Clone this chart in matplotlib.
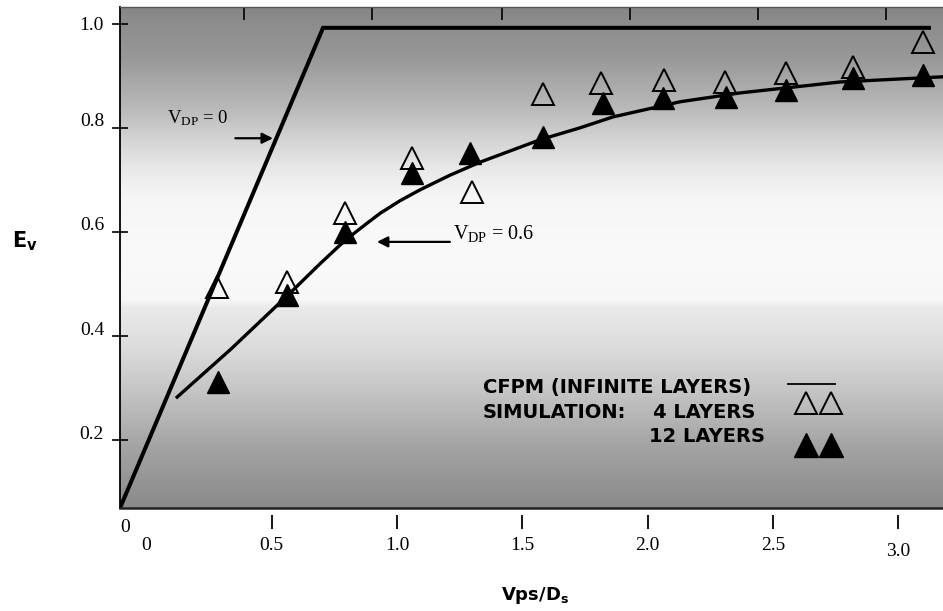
import numpy as np
import matplotlib
matplotlib.use("Agg")
import matplotlib.pyplot as plt
from matplotlib.transforms import ScaledTranslation

plt.rcParams["font.family"] = ["Liberation Serif", "DejaVu Serif"]
plt.rcParams["mathtext.fontset"] = "custom"
plt.rcParams["mathtext.rm"] = "Liberation Serif"
plt.rcParams["mathtext.it"] = "Liberation Serif:italic"
plt.rcParams["mathtext.bf"] = "Liberation Serif:bold"
plt.rcParams["mathtext.sf"] = "DejaVu Sans:bold"

# ---- data ----
# CFPM, infinite layers, V_DP = 0
vdp0_x = [-0.105, 0.705, 3.13]
vdp0_y = [0.070, 0.992, 0.992]

# CFPM, infinite layers, V_DP = 0.6
vdp06_x = [0.123, 0.335, 0.561, 0.693, 0.773, 0.825, 0.881, 0.933, 1.012,
           1.092, 1.211, 1.331, 1.570, 1.730, 1.862, 2.129, 2.368, 2.767, 3.178]
vdp06_y = [0.283, 0.374, 0.477, 0.539, 0.575, 0.596, 0.617, 0.636, 0.660,
           0.681, 0.709, 0.734, 0.777, 0.800, 0.821, 0.850, 0.867, 0.888, 0.898]

# Simulation, 4 layers
sim4_x = [0.282, 0.562, 0.793, 1.060, 1.299, 1.582, 1.814, 2.065, 2.309,
          2.552, 2.819, 3.098]
sim4_y = [0.494, 0.504, 0.636, 0.742, 0.677, 0.865, 0.886, 0.892, 0.888,
          0.905, 0.917, 0.965]

# Simulation, 12 layers
sim12_x = [0.286, 0.562, 0.793, 1.060, 1.291, 1.582, 1.822, 2.061, 2.312,
           2.552, 2.819, 3.098]
sim12_y = [0.312, 0.479, 0.600, 0.713, 0.752, 0.782, 0.848, 0.857, 0.859,
           0.873, 0.896, 0.901]

x_ticks = [0, 0.5, 1.0, 1.5, 2.0, 2.5, 3.0]
x_ticklabels = ["0", "0.5", "1.0", "1.5", "2.0", "2.5", "3.0"]
y_ticks = [0.2, 0.4, 0.6, 0.8, 1.0]
y_ticklabels = ["0.2", "0.4", "0.6", "0.8", "1.0"]
top_ticks = [0.39, 0.90, 1.42, 1.93, 2.44, 2.95]

W, H = 943, 611
fig = plt.figure(figsize=(W / 100, H / 100), dpi=100)
fig.patch.set_facecolor("white")
ax = fig.add_axes([120 / W, 1 - 508 / H, 823 / W, 501 / H])
ax.set_xlim(-0.105, 3.178)
ax.set_ylim(0.070, 1.032)

# shaded background of the plotting area (dark top, light middle, dark bottom)
stops_f = [0.0, 0.12, 0.22, 0.32, 0.40, 0.415, 0.50, 0.62, 0.68, 0.74, 0.80, 0.90, 1.0]
stops_g = [138, 163, 193, 220, 234, 247, 250, 246, 232, 210, 185, 152, 135]
fr = np.linspace(0, 1, 400)
g = np.interp(fr, stops_f, stops_g) / 255.0
img = np.repeat(g[:, None, None], 3, axis=2)
ax.imshow(img, extent=[0, 1, 0, 1], transform=ax.transAxes, origin="lower",
          aspect="auto", interpolation="bilinear", zorder=0)

# model curves
ax.plot(vdp0_x, vdp0_y, color="black", lw=2.9, solid_joinstyle="miter",
        solid_capstyle="butt", zorder=3)
ax.plot(vdp06_x, vdp06_y, color="black", lw=2.4, solid_joinstyle="round", zorder=3)

# simulation points
ax.plot(sim4_x, sim4_y, ls="none", marker="^", ms=16, mfc="none", mec="black",
        mew=1.4, zorder=4)
ax.plot(sim12_x, sim12_y, ls="none", marker="^", ms=16, mfc="black", mec="black",
        mew=1.0, zorder=5)

# curve annotations
ax.text(0.083, 0.819, r"V$_{\mathrm{DP}}$ = 0", fontsize=13.5, va="center", ha="left",
        zorder=6)
ax.annotate("", xy=(0.505, 0.780), xytext=(0.355, 0.780),
            arrowprops=dict(arrowstyle="-|>", color="black", lw=1.6,
                            mutation_scale=16, shrinkA=0, shrinkB=0), zorder=6)
ax.text(1.223, 0.598, r"V$_{\mathrm{DP}}$ = 0.6", fontsize=14.5, va="center", ha="left",
        zorder=6)
ax.annotate("", xy=(0.920, 0.581), xytext=(1.211, 0.581),
            arrowprops=dict(arrowstyle="-|>", color="black", lw=1.6,
                            mutation_scale=16, shrinkA=0, shrinkB=0), zorder=6)

# legend block
def fx(px):
    return (px - 120) / 823.0

def fy(py):
    return (508 - py) / 501.0

leg_kw = dict(transform=ax.transAxes, fontsize=14, fontweight="heavy",
              family="DejaVu Sans", va="center", zorder=6)
ax.text(fx(483), fy(388), "CFPM (INFINITE LAYERS)", ha="left", **leg_kw)
ax.text(fx(483), fy(412), "SIMULATION:", ha="left", **leg_kw)
ax.text(fx(755), fy(412), "4 LAYERS", ha="right", **leg_kw)
ax.text(fx(765), fy(437), "12 LAYERS", ha="right", **leg_kw)
ax.plot([fx(788), fx(835)], [fy(384), fy(384)], color="black", lw=1.3,
        transform=ax.transAxes, zorder=6)
ax.plot([fx(806), fx(831)], [fy(403), fy(403)], ls="none", marker="^", ms=16,
        mfc="none", mec="black", mew=1.4, transform=ax.transAxes, zorder=6)
ax.plot([fx(806), fx(831)], [fy(445), fy(445)], ls="none", marker="^", ms=17,
        mfc="black", mec="black", transform=ax.transAxes, zorder=6)

# frame
ax.spines["right"].set_visible(False)
ax.spines["top"].set_color("#555555")
ax.spines["top"].set_linewidth(1.0)
ax.spines["left"].set_linewidth(1.3)
ax.spines["bottom"].set_position(("outward", 5))
ax.spines["bottom"].set_color("none")
ax.axhline(0.070, color="#222222", lw=1.8, clip_on=False, zorder=6)

# y axis ticks (labels sit a little above their ticks, except the top one)
ax.set_yticks(y_ticks)
ax.set_yticklabels(y_ticklabels, fontsize=14)
ax.tick_params(axis="y", direction="inout", length=11, width=1.2, pad=6)
for lab in ax.get_yticklabels()[:-1]:
    lab.set_transform(lab.get_transform() + ScaledTranslation(0, 0.08, fig.dpi_scale_trans))

# x axis ticks (detached below the frame)
ax.set_xticks(x_ticks)
ax.set_xticklabels(x_ticklabels, fontsize=14)
ax.tick_params(axis="x", direction="out", length=10, width=1.3, pad=6)
ax.xaxis.get_major_ticks()[0].tick1line.set_visible(False)
xl = ax.get_xticklabels()
xl[-1].set_transform(xl[-1].get_transform() + ScaledTranslation(0, -0.06, fig.dpi_scale_trans))

# unlabelled ticks along the top edge
sec = ax.secondary_xaxis("top")
sec.set_xticks(top_ticks)
sec.tick_params(axis="x", direction="in", length=9, width=1.2, labeltop=False)
sec.spines["top"].set_visible(False)

# origin label and axis titles
fig.text(125 / W, 1 - 527 / H, "0", fontsize=14, ha="center", va="center")
fig.text(12 / W, 1 - 241 / H, r"$\mathsf{E_v}$", fontsize=15, ha="left", va="center")
fig.text(535 / W, 1 - 596 / H, r"$\mathsf{Vps/D_s}$", fontsize=13, ha="center",
         va="center")

fig.savefig("out.png", dpi=100)
